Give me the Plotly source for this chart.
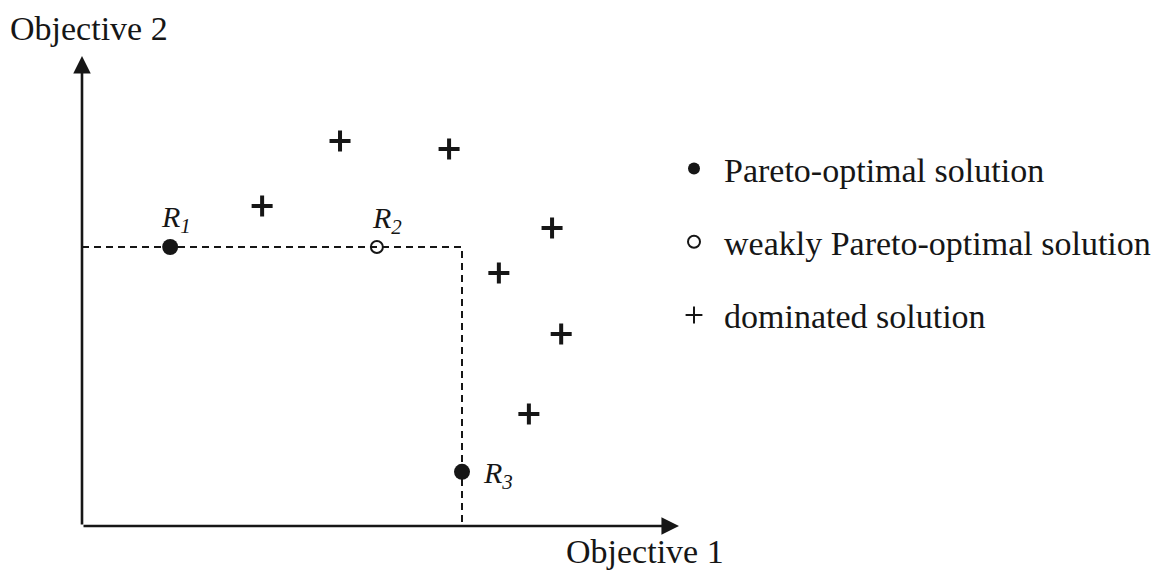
import plotly.graph_objects as go

# Objective values of the candidate solutions
pareto_x = [2.32, 10.0]
pareto_y = [10.0, 1.94]
pareto_labels = ["<i>R<sub>1</sub></i>", "<i>R<sub>3</sub></i>"]

weak_x = [7.76]
weak_y = [10.0]
weak_labels = ["<i>R<sub>2</sub></i>"]

dominated_x = [6.79, 9.66, 4.74, 12.37, 10.97, 12.61, 11.76]
dominated_y = [13.80, 13.51, 11.47, 10.68, 9.07, 6.88, 4.01]

# extent of the two objective axes
axis_len_x = 15.71
axis_len_y = 16.85

FONT = "Liberation Serif, Times New Roman, serif"
INK = "#161616"

fig = go.Figure()

# dashed box spanned by R1 (objective 2) and R3 (objective 1)
corner_x = pareto_x[1]
corner_y = pareto_y[0]
fig.add_trace(go.Scatter(
    x=[0, corner_x, corner_x], y=[corner_y, corner_y, 0],
    mode="lines", line=dict(color=INK, width=2, dash="7px,5px"),
    showlegend=False, hoverinfo="skip",
))

fig.add_trace(go.Scatter(
    x=pareto_x, y=pareto_y, mode="markers", name="Pareto-optimal solution",
    marker=dict(symbol="circle", size=16, color=INK),
    legendgroup="a",
))
fig.add_trace(go.Scatter(
    x=weak_x, y=weak_y, mode="markers", name="weakly Pareto-optimal solution",
    marker=dict(symbol="circle-open", size=12, color=INK, line=dict(width=2, color=INK)),
    legendgroup="b",
))
fig.add_trace(go.Scatter(
    x=dominated_x, y=dominated_y, mode="markers", name="dominated solution",
    marker=dict(symbol="cross-thin", size=15, line=dict(width=4, color=INK)),
    legendgroup="c",
))

# point labels
label_font = dict(family=FONT, size=30, color=INK)
offsets = {0: (6, 28, "center"), 1: (19, -3, "left")}
for i, txt in enumerate(pareto_labels):
    dx, dy, anchor = offsets[i]
    fig.add_annotation(x=pareto_x[i], y=pareto_y[i], text=txt, showarrow=False,
                       xshift=dx, yshift=dy, xanchor=anchor, font=label_font)
for i, txt in enumerate(weak_labels):
    fig.add_annotation(x=weak_x[i], y=weak_y[i], text=txt, showarrow=False,
                       xshift=10, yshift=27, xanchor="center", font=label_font)

# axes drawn as arrows from the origin
for tip_x, tip_y in [(axis_len_x, 0), (0, axis_len_y)]:
    fig.add_annotation(x=tip_x, y=tip_y, ax=0, ay=0, xref="x", yref="y",
                       axref="x", ayref="y", text="", showarrow=True,
                       arrowhead=2, arrowsize=1.35, arrowwidth=2.6,
                       arrowcolor=INK, standoff=0, startstandoff=0)

title_font = dict(family=FONT, size=34, color=INK)
fig.add_annotation(text="Objective 2", xref="paper", yref="paper",
                   x=8 / 1165, y=1 - 28 / 570, xanchor="left", yanchor="middle",
                   showarrow=False, font=title_font)
fig.add_annotation(text="Objective 1", xref="paper", yref="paper",
                   x=564 / 1165, y=1 - 551 / 570, xanchor="left", yanchor="middle",
                   showarrow=False, font=title_font)

fig.update_layout(
    width=1165, height=570,
    margin=dict(l=0, r=0, t=0, b=0),
    paper_bgcolor="white", plot_bgcolor="white",
    xaxis=dict(range=[-82 / 38, (1165 - 82) / 38], visible=False, fixedrange=True),
    yaxis=dict(range=[-(570 - 526) / 27.9, 526 / 27.9], visible=False, fixedrange=True),
    showlegend=True,
    legend=dict(
        x=664 / 1165, y=1 - 140 / 570, xanchor="left", yanchor="top",
        font=dict(family=FONT, size=34, color=INK),
        itemsizing="constant", itemwidth=50, tracegroupgap=26,
        bgcolor="rgba(0,0,0,0)",
    ),
)

fig.write_html("out.html")
